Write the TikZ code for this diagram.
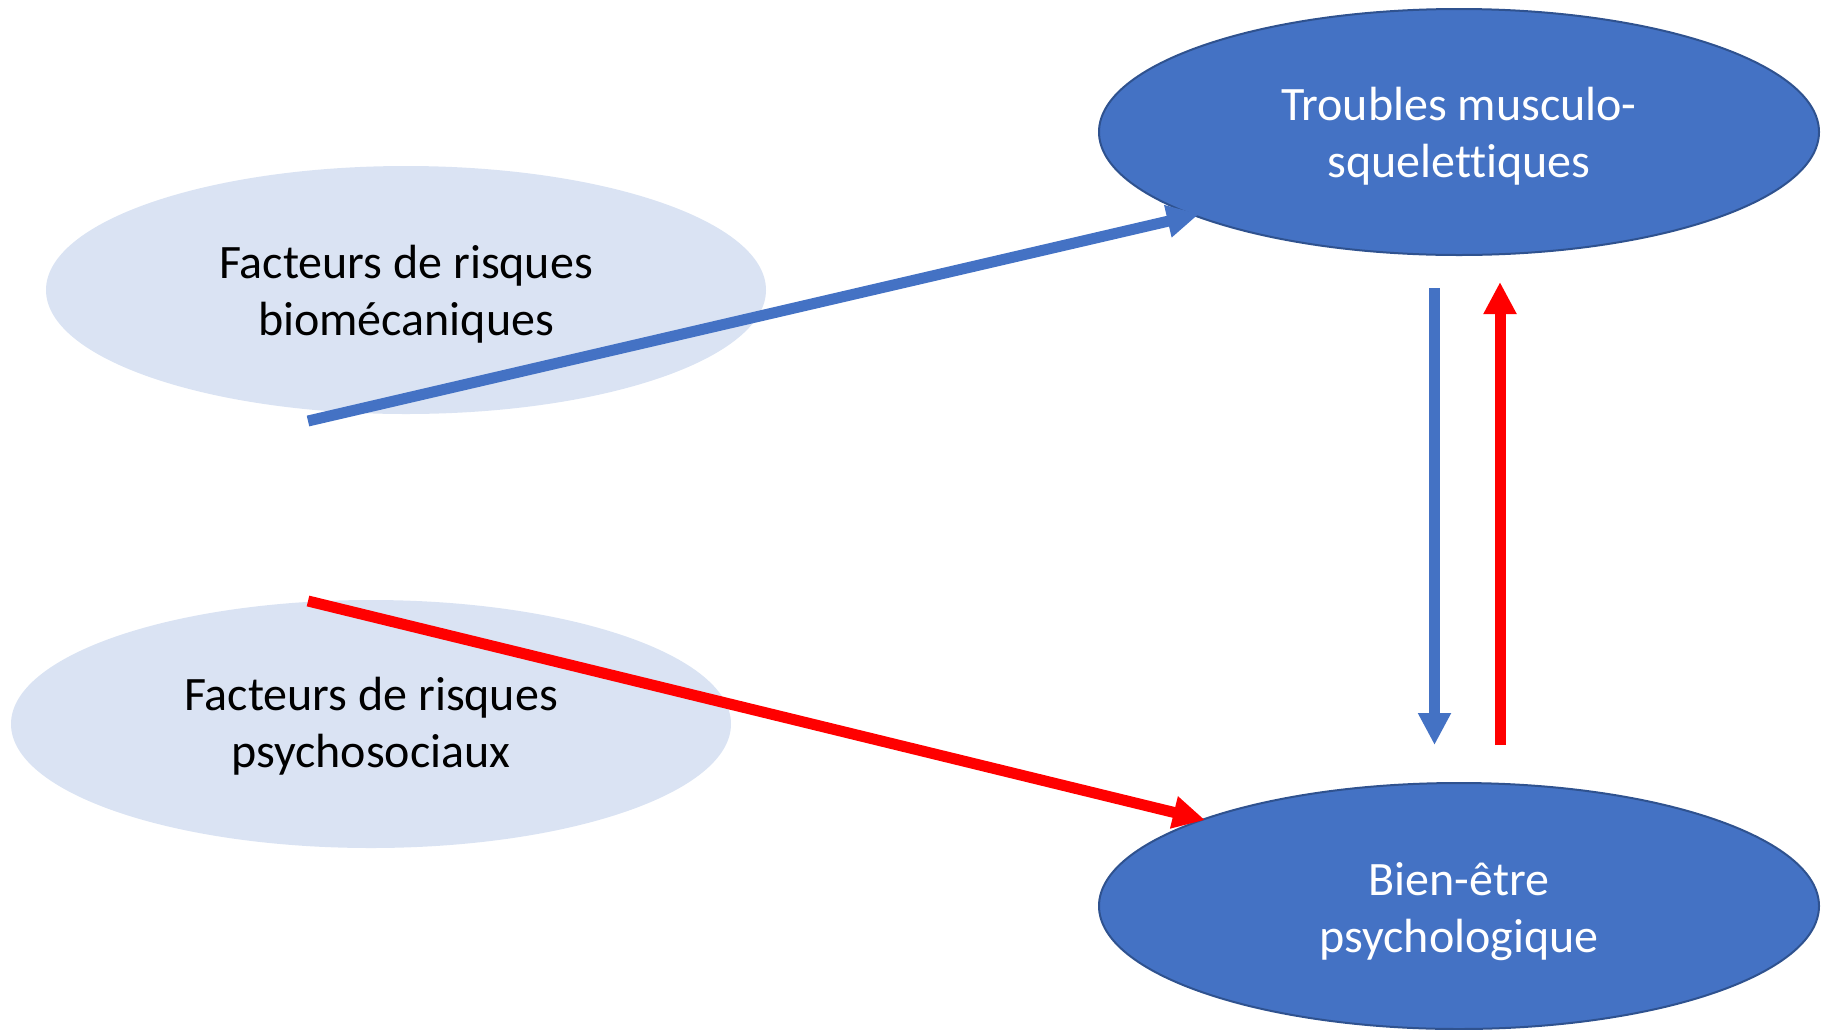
\documentclass[tikz,border=0pt]{standalone}
\usepackage{fontspec}
\setmainfont[Ligatures={NoCommon}]{Carlito}
\usetikzlibrary{shapes.geometric,arrows.meta}
\definecolor{darkblue}{HTML}{4472C4}
\definecolor{edgeblue}{HTML}{2F528F}
\definecolor{lightblue}{HTML}{DAE3F3}
\definecolor{pured}{HTML}{FF0000}
\begin{document}
\begin{tikzpicture}[x=1pt,y=-1pt,
  darkell/.style={ellipse, fill=darkblue, draw=edgeblue, line width=2pt, minimum width=720pt, minimum height=246pt, inner sep=0pt},
  lightell/.style={ellipse, fill=lightblue, minimum width=720pt, minimum height=248pt, inner sep=0pt},
  intext/.style={align=center, inner sep=0pt, font=\fontsize{48}{57}\selectfont},
  arr/.style={line width=11pt, -{Triangle[width=31pt,length=32pt]}}]
\useasboundingbox (0,0) rectangle (1834,1029);
\clip (0,0) rectangle (1834,1029);
\node[lightell, label={[intext, name=bioT, text=black, yshift=-4pt]center:Facteurs de risques\\biomécaniques}] (bio) at (406,290) {};
\node[lightell, label={[intext, name=psyT, text=black, yshift=-2pt]center:Facteurs de risques\\psychosociaux}] (psy) at (371,724) {};
\node[darkell, label={[intext, name=tmsT, text=white, yshift=-4pt]center:Troubles musculo-\\squelettiques}] (tms) at (1459,132) {};
\node[darkell, label={[intext, name=bepT, text=white, yshift=-6pt]center:Bien-être\\psychologique}] (bep) at (1459,906) {};
\coordinate (bioS) at (308,421);
\coordinate (tmsW) at (1199,214);
\coordinate (psyN) at (308,601);
\coordinate (bepW) at (1205,820);
\coordinate (tmsB1) at (1434.5,288);
\coordinate (bepT1) at (1434.5,745);
\coordinate (bepT2) at (1500,745);
\coordinate (tmsB2) at (1500,282);
\draw[arr, darkblue] (bioS) -- (tmsW);
\draw[arr, pured] (psyN) -- (bepW);
\draw[arr, darkblue] (tmsB1) -- (bepT1);
\draw[arr, pured] (bepT2) -- (tmsB2);
\end{tikzpicture}
\end{document}
